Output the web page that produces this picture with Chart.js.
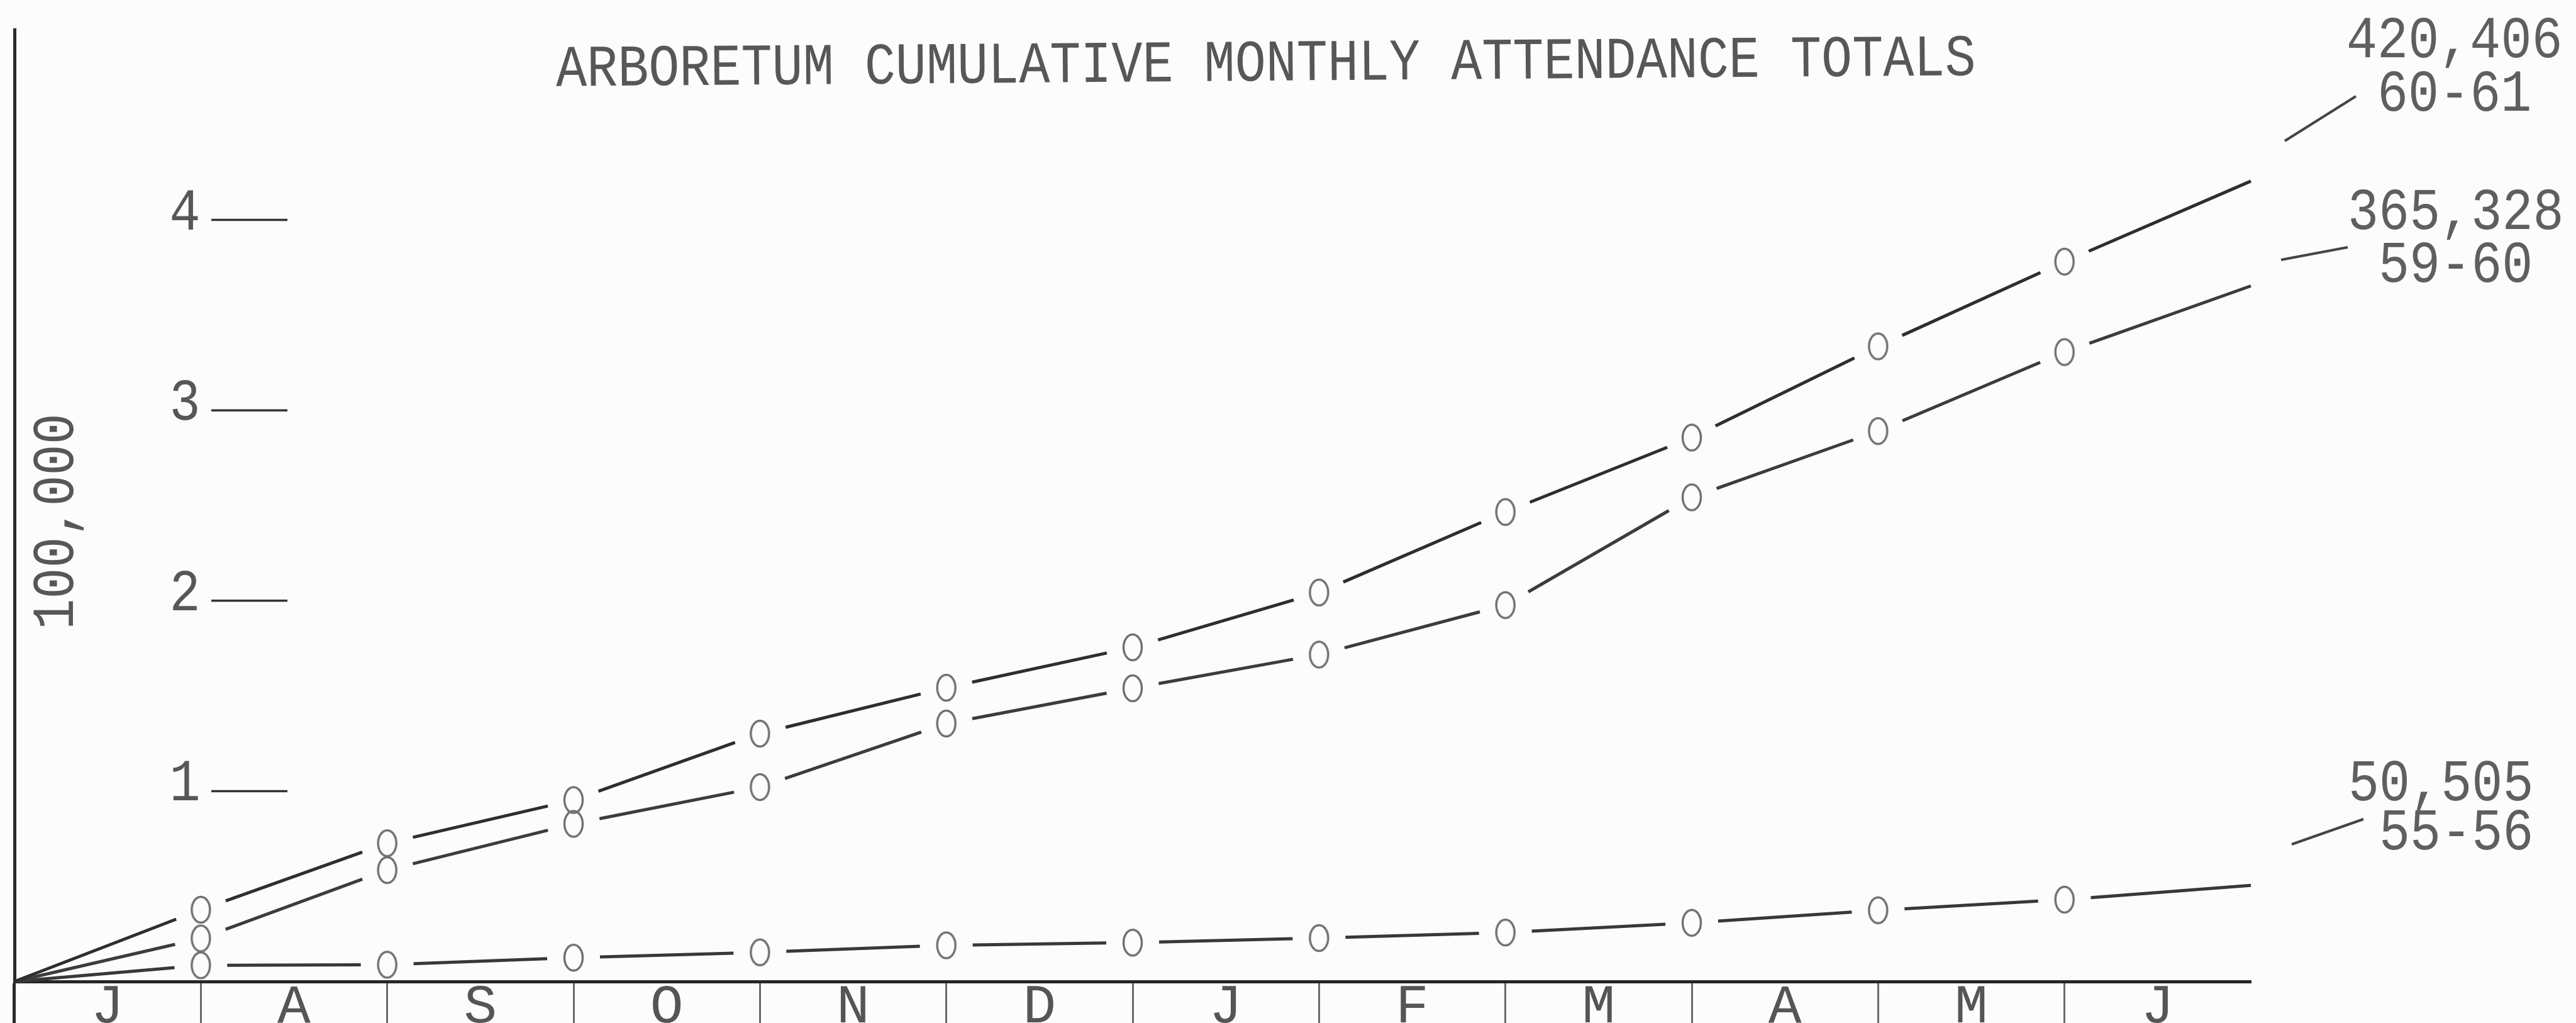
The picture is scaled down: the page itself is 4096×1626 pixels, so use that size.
<!DOCTYPE html>
<html>
<head>
<meta charset="utf-8">
<title>Arboretum Cumulative Monthly Attendance Totals</title>
<script src="https://cdn.jsdelivr.net/npm/chart.js@4.4.1/dist/chart.umd.min.js"></script>
<style>
  html, body { margin: 0; padding: 0; background: #fcfcfc; overflow: hidden; }
  canvas { display: block; }
</style>
</head>
<body>
<canvas id="attendance" width="4096" height="1626"></canvas>
<script>
// month columns, July through June
const months = ['J', 'A', 'S', 'O', 'N', 'D', 'J', 'F', 'M', 'A', 'M', 'J'];
// cumulative attendance at each month end (first value = start of July)
const season6061 = [0, 37700, 72600, 95300, 130200, 154300, 175500, 204300, 246600, 285700, 333600, 378100, 420406];
const season5960 = [0, 22600, 58500, 82800, 102100, 135500, 154000, 171700, 197700, 254300, 289100, 330600, 365328];
const season5556 = [0, 8500, 8800, 12500, 15300, 19000, 20400, 22800, 25700, 30800, 37400, 43000, 50505];
// y tick labels, in 100,000s
const yTicks = [1, 2, 3, 4];
const seasons = ['60-61', '59-60', '55-56'];
const totals = ['420,406', '365,328', '50,505'];

const FONT = '"Liberation Mono", "DejaVu Sans Mono", monospace';
const SQUEEZE = 0.87;   // typewriter letters are narrow and tall
const GAP = 42;         // lines stop short of the typed "o" markers

// typed "o" used as the point marker
function makeMarker() {
  const c = document.createElement('canvas');
  c.width = 38; c.height = 50;
  const g = c.getContext('2d');
  g.strokeStyle = '#6e6e6e';
  g.lineWidth = 3.4;
  g.beginPath();
  g.ellipse(19, 25, 14.5, 20.5, 0, 0, Math.PI * 2);
  g.stroke();
  return c;
}
const marker = makeMarker();

function gapped(lastIndex) {
  return function (ctx) {
    const len = Math.hypot(ctx.p1.x - ctx.p0.x, ctx.p1.y - ctx.p0.y);
    const a = ctx.p0DataIndex === 0 ? 0 : GAP;
    const b = ctx.p1DataIndex === lastIndex ? 0 : GAP;
    return [0, a, Math.max(len - a - b, 0), len + 2 * GAP];
  };
}

function series(values, color) {
  const last = values.length - 1;
  return {
    data: values.map((v, i) => ({ x: i, y: v })),
    borderColor: color,
    borderWidth: 5,
    tension: 0,
    fill: false,
    clip: false,
    pointStyle: marker,
    pointRadius: values.map((v, i) => (i === 0 || i === last) ? 0 : 12),
    segment: { borderDash: gapped(last) }
  };
}

function typed(ctx, s, x, y, align, rot) {
  ctx.save();
  ctx.translate(x, y);
  if (rot) ctx.rotate(rot);
  ctx.scale(SQUEEZE, 1);
  ctx.textAlign = align;
  ctx.textBaseline = 'alphabetic';
  ctx.fillText(s, 0, 0);
  ctx.restore();
}

function line(ctx, x1, y1, x2, y2) {
  ctx.beginPath();
  ctx.moveTo(x1, y1);
  ctx.lineTo(x2, y2);
  ctx.stroke();
}

// title, y ticks, unit label and the totals at the right
const typewriter = {
  id: 'typewriter',
  afterDraw(chart) {
    const ctx = chart.ctx;
    const y = chart.scales.y;
    ctx.save();
    ctx.font = '94px ' + FONT;
    ctx.fillStyle = '#575757';
    typed(ctx, 'ARBORETUM CUMULATIVE MONTHLY ATTENDANCE TOTALS', 2013, 128, 'center', -0.0077);

    ctx.strokeStyle = '#333';
    ctx.lineWidth = 3.5;
    yTicks.forEach(t => {
      const py = y.getPixelForValue(t * 100000);
      typed(ctx, String(t), 294, py + 15, 'center', 0);
      line(ctx, 336, py, 457, py);
    });

    typed(ctx, '100,000', 116, 829, 'center', -Math.PI / 2);

    // label blocks: total on top, season one column in
    const blocks = [
      { x: 3731, top: 91, bottom: 176, lead: [3633, 224, 3746, 153] },
      { x: 3733, top: 364, bottom: 448, lead: [3627, 413, 3733, 393] },
      { x: 3734, top: 1272, bottom: 1350, lead: [3644, 1342, 3758, 1302] }
    ];
    ctx.fillStyle = '#5f5f5f';
    ctx.strokeStyle = '#444';
    ctx.lineWidth = 4;
    blocks.forEach((b, i) => {
      typed(ctx, totals[i], b.x, b.top, 'left', 0);
      typed(ctx, seasons[i], b.x + 49, b.bottom, 'left', 0);
      line(ctx, b.lead[0], b.lead[1], b.lead[2], b.lead[3]);
    });
    ctx.restore();
  }
};

new Chart(document.getElementById('attendance'), {
  type: 'line',
  data: {
    datasets: [
      series(season6061, '#2e2e2e'),
      series(season5960, '#3c3c3c'),
      series(season5556, '#383838')
    ]
  },
  options: {
    responsive: false,
    animation: false,
    events: [],
    layout: { autoPadding: false, padding: { left: 23, right: 517, top: 47, bottom: 0 } },
    plugins: { legend: { display: false }, tooltip: { enabled: false }, title: { display: false } },
    scales: {
      x: { type: 'linear', min: 0, max: 12, display: false },
      xm: {
        type: 'category',
        labels: months,
        position: 'bottom',
        offset: true,
        grid: {
          offset: true,
          drawOnChartArea: false,
          drawTicks: true,
          tickLength: 66,
          tickColor: c => c.index === 0 ? '#2a2a2a' : (c.index > 0 && c.index < months.length ? '#6a6a6a' : 'rgba(0,0,0,0)'),
          tickWidth: c => c.index === 0 ? 5 : 3
        },
        border: { display: true, color: '#262626', width: 5 },
        ticks: {
          font: { family: FONT, size: 88 },
          color: '#555',
          padding: -77,
          maxRotation: 0,
          autoSkip: false
        },
        afterFit: s => { s.height = 66; }
      },
      y: {
        type: 'linear',
        min: 0,
        max: 500000,
        position: 'left',
        ticks: { display: false },
        grid: { drawOnChartArea: false, drawTicks: false },
        border: { display: true, color: '#2a2a2a', width: 5 },
        afterFit: s => { s.width = 0; }
      }
    }
  },
  plugins: [typewriter]
});
</script>
</body>
</html>
